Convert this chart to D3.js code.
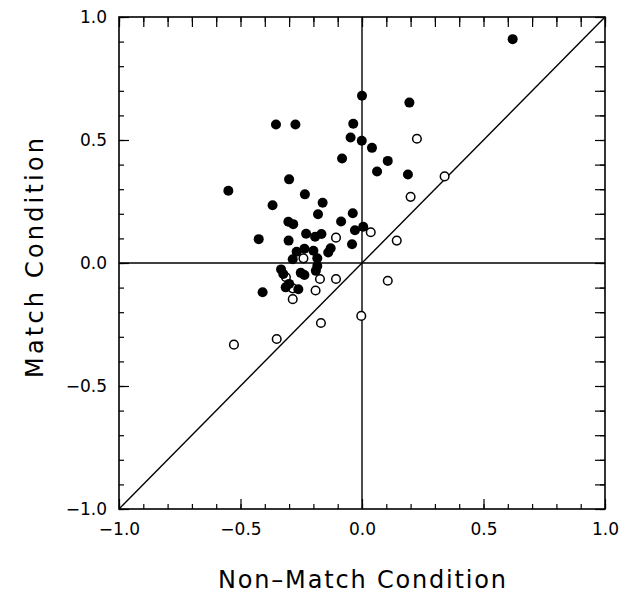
<!DOCTYPE html>
<html>
<head>
<meta charset="utf-8">
<script src="https://cdn.jsdelivr.net/npm/d3@7"></script>
<style>
  body { margin: 0; background: #fff; }
  text { font-family: "DejaVu Sans", sans-serif; fill: #000; }
</style>
</head>
<body>
<div id="chart"></div>
<script>
// filled circles (x = non-match, y = match)
var filledX = [0.62, 0.00, 0.195, -0.354, -0.274, -0.036, -0.047, -0.001, 0.041, -0.082, 0.106, 0.062, 0.189,
  -0.550, -0.300, -0.235, -0.368, -0.162, -0.181, -0.038, -0.303, -0.283, -0.086, -0.029, 0.005, -0.425, -0.302,
  -0.230, -0.193, -0.167, -0.041, -0.139, -0.129,
  -0.285, -0.269, -0.237, -0.200, -0.184, -0.184, -0.190, -0.333, -0.324, -0.237, -0.252, -0.314, -0.262, -0.409, -0.300];
var filledY = [0.91, 0.68, 0.652, 0.563, 0.563, 0.566, 0.510, 0.497, 0.468, 0.425, 0.415, 0.372, 0.360,
  0.294, 0.340, 0.279, 0.235, 0.245, 0.198, 0.202, 0.168, 0.158, 0.169, 0.133, 0.147, 0.097, 0.091,
  0.119, 0.107, 0.118, 0.076, 0.043, 0.060,
  0.015, 0.046, 0.058, 0.050, 0.019, -0.012, -0.032, -0.026, -0.045, -0.049, -0.040, -0.099, -0.107, -0.119, -0.085];

// open circles
var openX = [0.226, 0.340, 0.200, 0.036, -0.107, 0.143, 0.106, -0.107, -0.173, -0.191, -0.285, -0.313, -0.285,
  -0.003, -0.169, -0.351, -0.527, -0.241];
var openY = [0.505, 0.352, 0.269, 0.125, 0.103, 0.091, -0.072, -0.065, -0.065, -0.112, -0.147, -0.058, -0.103,
  -0.215, -0.244, -0.309, -0.332, 0.019];

var majorTicks = [-1.0, -0.5, 0.0, 0.5, 1.0];
var minorTicks = d3.range(-10, 11).map(function (i) { return i / 10; });

var margin = { top: 17, left: 119, bottom: 88, right: 29 },
    width = 634 - margin.left - margin.right,
    height = 597 - margin.top - margin.bottom;

var svg = d3.select("#chart").append("svg")
    .attr("width", 634)
    .attr("height", 597)
    .append("g")
    .attr("transform", "translate(" + margin.left + "," + margin.top + ")");

var x = d3.scaleLinear().domain([-1, 1]).range([0, width]);
var y = d3.scaleLinear().domain([-1, 1]).range([height, 0]);
var fmt = d3.format(".1f");

function tickAxis(axis, size, labels, pad) {
    return axis.tickValues(labels ? majorTicks : minorTicks)
        .tickSize(-size)
        .tickPadding(pad || 0)
        .tickFormat(labels ? fmt : "");
}

function drawAxis(gen, transform, size, labels, pad) {
    var g = svg.append("g")
        .attr("transform", transform)
        .call(tickAxis(gen, size, labels, pad));
    g.select(".domain").remove();
    g.selectAll("line").attr("stroke", "#000").attr("stroke-width", 1.2);
    g.selectAll("text").style("font-size", "17px").style("font-family", "DejaVu Sans, sans-serif");
    return g;
}

// minor + major ticks, all four sides, pointing in
drawAxis(d3.axisBottom(x), "translate(0," + height + ")", 5, false);
drawAxis(d3.axisBottom(x), "translate(0," + height + ")", 10, true, 14);
drawAxis(d3.axisTop(x), "translate(0,0)", 5, false);
drawAxis(d3.axisTop(x), "translate(0,0)", 10, false);
drawAxis(d3.axisLeft(y), "translate(0,0)", 5, false);
drawAxis(d3.axisLeft(y), "translate(0,0)", 10, true, 12);
drawAxis(d3.axisRight(y), "translate(" + width + ",0)", 5, false);
drawAxis(d3.axisRight(y), "translate(" + width + ",0)", 10, false);

// zero lines and diagonal
svg.append("line")
    .attr("x1", x(-1)).attr("x2", x(1)).attr("y1", y(0)).attr("y2", y(0))
    .attr("stroke", "#000").attr("stroke-width", 1.4);
svg.append("line")
    .attr("x1", x(0)).attr("x2", x(0)).attr("y1", y(-1)).attr("y2", y(1))
    .attr("stroke", "#000").attr("stroke-width", 1.4);
svg.append("line")
    .attr("x1", x(-1)).attr("x2", x(1)).attr("y1", y(-1)).attr("y2", y(1))
    .attr("stroke", "#000").attr("stroke-width", 1.4);

// frame
svg.append("rect")
    .attr("width", width).attr("height", height)
    .attr("fill", "none").attr("stroke", "#000").attr("stroke-width", 1.6);

svg.selectAll(".open")
    .data(openX.map(function (d, i) { return [d, openY[i]]; }))
    .enter()
    .append("circle")
    .attr("class", "open")
    .attr("cx", function (d) { return x(d[0]); })
    .attr("cy", function (d) { return y(d[1]); })
    .attr("r", 4.3)
    .attr("fill", "#fff")
    .attr("stroke", "#000")
    .attr("stroke-width", 1.5);

svg.selectAll(".filled")
    .data(filledX.map(function (d, i) { return [d, filledY[i]]; }))
    .enter()
    .append("circle")
    .attr("class", "filled")
    .attr("cx", function (d) { return x(d[0]); })
    .attr("cy", function (d) { return y(d[1]); })
    .attr("r", 5)
    .attr("fill", "#000");

// axis titles
svg.append("text")
    .attr("x", width / 2)
    .attr("y", 571)
    .attr("text-anchor", "middle")
    .attr("textLength", 288)
    .attr("lengthAdjust", "spacing")
    .style("font-size", "24px")
    .text("Non\u2013Match Condition");

svg.append("text")
    .attr("transform", "translate(" + (-76) + "," + (y(0) - 5) + ") rotate(-90)")
    .attr("text-anchor", "middle")
    .attr("textLength", 240)
    .attr("lengthAdjust", "spacing")
    .style("font-size", "24px")
    .text("Match Condition");
</script>
</body>
</html>
